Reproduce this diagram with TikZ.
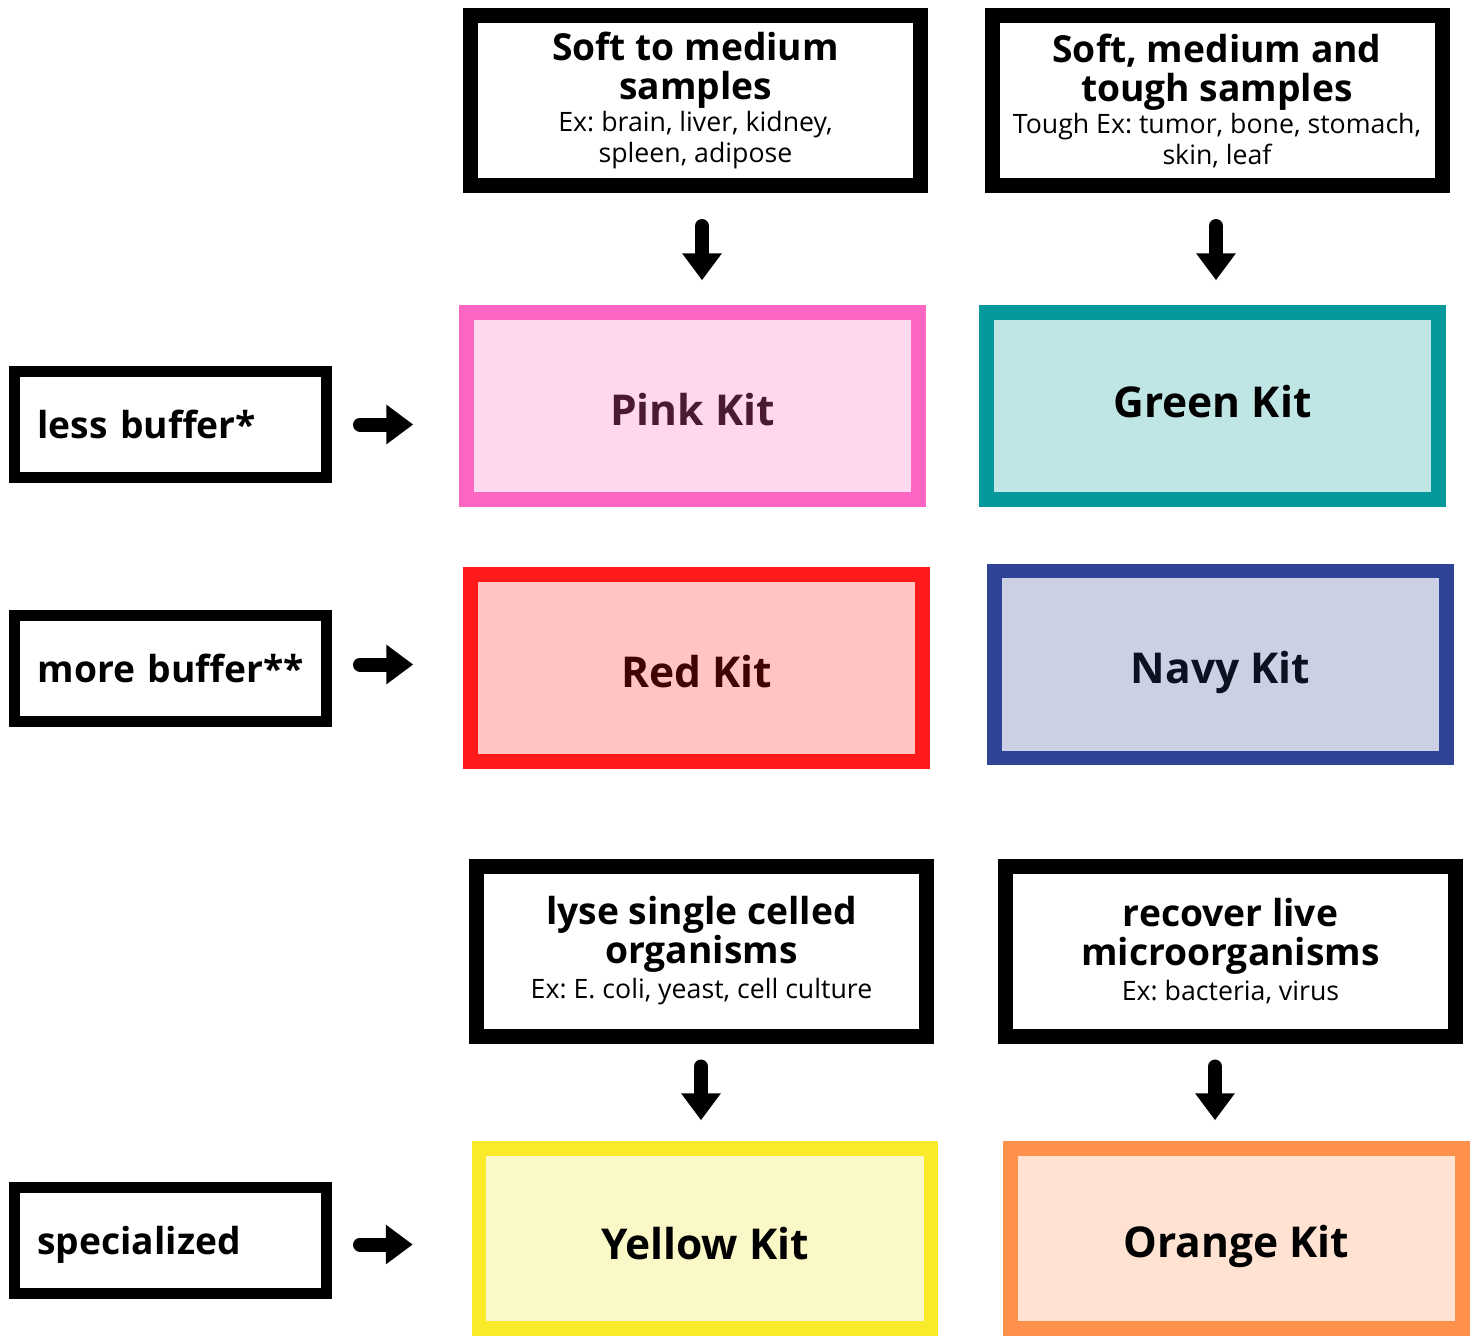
\documentclass[tikz,border=0pt]{standalone}
\usepackage{fontspec}
\setmainfont{Open Sans}
\usepackage{xcolor}
\usepackage{tikz}
\usetikzlibrary{arrows.meta}
\usetikzlibrary{positioning}

\definecolor{pinkline}{HTML}{FF66C4}
\definecolor{pinkfill}{HTML}{FFD7EE}
\definecolor{pinktext}{HTML}{4A1A35}
\definecolor{greenline}{HTML}{05999C}
\definecolor{greenfill}{HTML}{C0E5E5}
\definecolor{redline}{HTML}{FF1B1C}
\definecolor{redfill}{HTML}{FFC4C4}
\definecolor{redtext}{HTML}{3E0303}
\definecolor{navyline}{HTML}{304497}
\definecolor{navyfill}{HTML}{CBD0E4}
\definecolor{navytext}{HTML}{0C1122}
\definecolor{yellowline}{HTML}{F9EA2A}
\definecolor{yellowfill}{HTML}{FAF8C6}
\definecolor{orangeline}{HTML}{FF914D}
\definecolor{orangefill}{HTML}{FFE2D1}

\newcommand{\headfont}{\fontsize{37.2}{39}\selectfont\bfseries\frenchspacing}
\newcommand{\subfont}{\fontsize{26.7}{31}\selectfont\mdseries\frenchspacing}
\newcommand{\kitfont}{\fontsize{42.5}{48}\selectfont\bfseries}

\begin{document}
\begin{tikzpicture}[x=1pt,y=-1pt]
			\useasboundingbox (0,0) rectangle (1473,1336);
			\begin{scope}[every node/.style={rectangle,draw=black,line width=15pt,fill=white,minimum width=450pt,minimum height=170pt,align=center,inner sep=0pt,font=\headfont}]
		    \node (soft) at (695.5,100.5) {Soft to medium\\samples\\[-7pt]\subfont Ex: brain, liver, kidney,\\[-8pt]\subfont spleen, adipose};
		    \node (tough) at (1217,100.5) {Soft, medium and\\tough samples\\[-7pt]\subfont Tough Ex: tumor, bone, stomach,\\[-8pt]\subfont skin, leaf};
		    \node (lyse) at (701.5,951) {lyse single celled\\organisms\\[-4pt]\subfont Ex: E. coli, yeast, cell culture};
		    \node (recover) at (1230.5,951) {recover live\\microorganisms\\[-4pt]\subfont Ex: bacteria, virus};
			\end{scope}
			\begin{scope}[every node/.style={rectangle,draw=black,line width=11pt,fill=white,minimum width=312pt,minimum height=106pt,align=left,text width=266pt,inner xsep=23pt,text depth=0pt,font=\headfont}]
		    \node (less) at (170.5,424.5) {less buffer*};
		    \node (more) at (170.5,668.5) {\mbox{more buffer**}};
		    \node (special) at (170.5,1240.5) {specialized};
			\end{scope}
			\begin{scope}[every node/.style={rectangle,line width=14.5pt,minimum width=452pt,minimum height=187pt,text depth=0pt,font=\kitfont}]
		    \node[draw=pinkline,fill=pinkfill,text=pinktext] (pink) at (692.5,406) {\raisebox{-7pt}{Pink Kit}};
		    \node[draw=greenline,fill=greenfill,text=black] (green) at (1212.5,406) {\raisebox{10pt}{Green Kit}};
		    \node[draw=redline,fill=redfill,text=redtext] (red) at (696.5,668) {\raisebox{-7pt}{Red Kit}};
		    \node[draw=navyline,fill=navyfill,text=navytext] (navy) at (1220.5,664.5) {\raisebox{-5pt}{Navy Kit}};
		    \node[draw=yellowline,fill=yellowfill,text=black,minimum height=180pt] (yellow) at (705,1238.5) {\raisebox{-9pt}{Yellow Kit}};
		    \node[draw=orangeline,fill=orangefill,text=black,minimum height=180pt] (orange) at (1236.5,1238.5) {\raisebox{-6pt}{Orange Kit}};
			\end{scope}
			\begin{scope}[every edge/.style={draw=black,line width=14pt,line cap=round,-{Triangle[length=27pt,width=38pt]}}]
		    \path (soft.south -| 702,0) edge[shorten <=33pt,shorten >=25pt] (pink.north -| 702,0);
		    \path (tough.south -| 1216,0) edge[shorten <=33pt,shorten >=25pt] (green.north -| 1216,0);
		    \path (lyse.south -| 701,0) edge[shorten <=23pt,shorten >=21pt] (yellow.north -| 701,0);
		    \path (recover.south -| 1215,0) edge[shorten <=23pt,shorten >=21pt] (orange.north -| 1215,0);
		    \path (less.east) edge[shorten <=28pt,shorten >=46pt] (less.east -| pink.west);
		    \path ([yshift=4pt]more.east) edge[shorten <=28pt,shorten >=50pt] ([yshift=4pt]more.east -| red.west);
		    \path ([yshift=-4pt]special.east) edge[shorten <=28pt,shorten >=59pt] ([yshift=-4pt]special.east -| yellow.west);
	    \end{scope}
    \end{tikzpicture}
\end{document}
